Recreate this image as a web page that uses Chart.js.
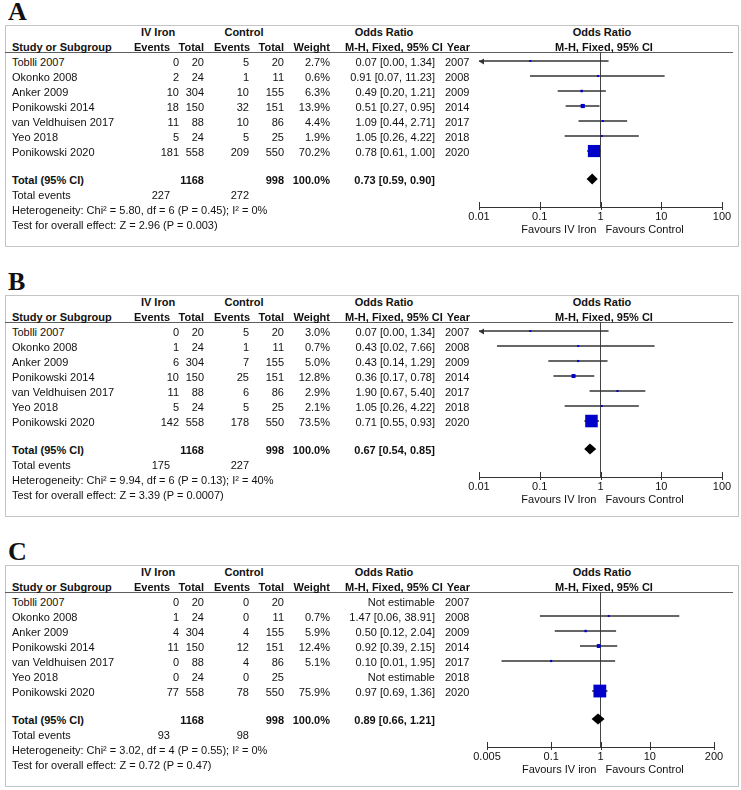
<!DOCTYPE html>
<html><head><meta charset="utf-8">
<script src="https://cdn.jsdelivr.net/npm/chart.js"></script>
<style>
html,body{margin:0;padding:0;background:#fff;}
body{width:741px;height:790px;position:relative;overflow:hidden;font-family:"Liberation Sans",Arial,sans-serif;color:#111;}
.t{position:absolute;font-size:11px;line-height:14px;white-space:nowrap;z-index:2;}
.b{font-weight:bold;}
.box{position:absolute;border:1.5px solid #c4c4c4;box-sizing:border-box;}
.hl{position:absolute;height:1.5px;background:#5e5e5e;}
.lab{position:absolute;font-family:"Liberation Serif",serif;font-weight:bold;font-size:26px;line-height:26px;}
.cw{position:absolute;z-index:1;}
</style></head><body>
<script>
// ---------- data ----------
const studies = ['Toblli 2007','Okonko 2008','Anker 2009','Ponikowski 2014','van Veldhuisen 2017','Yeo 2018','Ponikowski 2020'];
const years = [2007, 2008, 2009, 2014, 2017, 2018, 2020];
const ivTotal = [20, 24, 304, 150, 88, 24, 558];
const ctrlTotal = [20, 11, 155, 151, 86, 25, 550];

// Panel A
const aIvEvents   = [0, 2, 10, 18, 11, 5, 181];
const aCtrlEvents = [5, 1, 10, 32, 10, 5, 209];
const aWeight = [2.7, 0.6, 6.3, 13.9, 4.4, 1.9, 70.2];
const aOR   = [0.07, 0.91, 0.49, 0.51, 1.09, 1.05, 0.78];
const aLow  = [0.00, 0.07, 0.20, 0.27, 0.44, 0.26, 0.61];
const aHigh = [1.34, 11.23, 1.21, 0.95, 2.71, 4.22, 1.00];
const aTotal = [0.73, 0.59, 0.90];
const aTotalEvents = [227, 272];
const aHet = 'Heterogeneity: Chi² = 5.80, df = 6 (P = 0.45); I² = 0%';
const aTest = 'Test for overall effect: Z = 2.96 (P = 0.003)';

// Panel B
const bIvEvents   = [0, 1, 6, 10, 11, 5, 142];
const bCtrlEvents = [5, 1, 7, 25, 6, 5, 178];
const bWeight = [3.0, 0.7, 5.0, 12.8, 2.9, 2.1, 73.5];
const bOR   = [0.07, 0.43, 0.43, 0.36, 1.90, 1.05, 0.71];
const bLow  = [0.00, 0.02, 0.14, 0.17, 0.67, 0.26, 0.55];
const bHigh = [1.34, 7.66, 1.29, 0.78, 5.40, 4.22, 0.93];
const bTotal = [0.67, 0.54, 0.85];
const bTotalEvents = [175, 227];
const bHet = 'Heterogeneity: Chi² = 9.94, df = 6 (P = 0.13); I² = 40%';
const bTest = 'Test for overall effect: Z = 3.39 (P = 0.0007)';

// Panel C
const cIvEvents   = [0, 1, 4, 11, 0, 0, 77];
const cCtrlEvents = [0, 0, 4, 12, 4, 0, 78];
const cWeight = [null, 0.7, 5.9, 12.4, 5.1, null, 75.9];
const cOR   = [null, 1.47, 0.50, 0.92, 0.10, null, 0.97];
const cLow  = [null, 0.06, 0.12, 0.39, 0.01, null, 0.69];
const cHigh = [null, 38.91, 2.04, 2.15, 1.95, null, 1.36];
const cTotal = [0.89, 0.66, 1.21];
const cTotalEvents = [93, 98];
const cHet = 'Heterogeneity: Chi² = 3.02, df = 4 (P = 0.55); I² = 0%';
const cTest = 'Test for overall effect: Z = 0.72 (P = 0.47)';

// Axis ticks
const ticksAB = [0.01, 0.1, 1, 10, 100];
const tickLabelsAB = ['0.01', '0.1', '1', '10', '100'];
const ticksC = [0.005, 0.1, 1, 10, 200];
const tickLabelsC = ['0.005', '0.1', '1', '10', '200'];
const favoursAB = ['Favours IV Iron', 'Favours Control'];
const favoursC = ['Favours IV iron', 'Favours Control'];

// ---------- layout ----------
const panelTops = [0, 270, 540];
const TOTAL_ROW = 7.87;
const BLUE = '#0000c8';

const panels = [
  {label:'A', ivEv:aIvEvents, ctEv:aCtrlEvents, w:aWeight, or:aOR, lo:aLow, hi:aHigh, tot:aTotal, totEv:aTotalEvents, het:aHet, test:aTest, ticks:ticksAB, tickLabels:tickLabelsAB, fav:favoursAB},
  {label:'B', ivEv:bIvEvents, ctEv:bCtrlEvents, w:bWeight, or:bOR, lo:bLow, hi:bHigh, tot:bTotal, totEv:bTotalEvents, het:bHet, test:bTest, ticks:ticksAB, tickLabels:tickLabelsAB, fav:favoursAB},
  {label:'C', ivEv:cIvEvents, ctEv:cCtrlEvents, w:cWeight, or:cOR, lo:cLow, hi:cHigh, tot:cTotal, totEv:cTotalEvents, het:cHet, test:cTest, ticks:ticksC, tickLabels:tickLabelsC, fav:favoursC}
];

function txt(s, x, y, align, bold) {
  const d = document.createElement('div');
  d.className = 't' + (bold ? ' b' : '');
  d.textContent = s;
  if (align === 'r') { d.style.left = (x - 300) + 'px'; d.style.width = '300px'; d.style.textAlign = 'right'; }
  else if (align === 'c') { d.style.left = (x - 150) + 'px'; d.style.width = '300px'; d.style.textAlign = 'center'; }
  else d.style.left = x + 'px';
  d.style.top = (y - 7) + 'px';
  document.body.appendChild(d);
  return d;
}
function el(cls, css) {
  const d = document.createElement('div');
  d.className = cls;
  Object.assign(d.style, css);
  document.body.appendChild(d);
  return d;
}
const f2 = v => v.toFixed(2);
const orText = (o, l, h) => o == null ? 'Not estimable' : `${f2(o)} [${f2(l)}, ${f2(h)}]`;

const forestPlugin = {
  id: 'forest',
  afterDatasetsDraw(chart, args, opts) {
    const {ctx} = chart;
    const x = chart.scales.x, y = chart.scales.y;
    const p = opts.panel;
    ctx.save();
    // arrows for CIs beyond the axis
    ctx.fillStyle = '#333';
    p.lo.forEach((v, i) => {
      if (v != null && v < x.min) {
        const px = x.getPixelForValue(x.min), py = Math.round(y.getPixelForValue(i)) + 0.5;
        ctx.beginPath(); ctx.moveTo(px, py); ctx.lineTo(px + 5, py - 3); ctx.lineTo(px + 5, py + 3); ctx.closePath(); ctx.fill();
      }
    });
    p.hi.forEach((v, i) => {
      if (v != null && v > x.max) {
        const px = x.getPixelForValue(x.max), py = Math.round(y.getPixelForValue(i)) + 0.5;
        ctx.beginPath(); ctx.moveTo(px, py); ctx.lineTo(px - 5, py - 3); ctx.lineTo(px - 5, py + 3); ctx.closePath(); ctx.fill();
      }
    });
    // pooled diamond
    const [e, l, h] = p.tot;
    const yy = y.getPixelForValue(TOTAL_ROW);
    ctx.fillStyle = '#000';
    ctx.beginPath();
    ctx.moveTo(x.getPixelForValue(l), yy);
    ctx.lineTo(x.getPixelForValue(e), yy - 5.5);
    ctx.lineTo(x.getPixelForValue(h), yy);
    ctx.lineTo(x.getPixelForValue(e), yy + 5.5);
    ctx.closePath(); ctx.fill();
    // tick marks crossing the axis
    ctx.strokeStyle = '#333'; ctx.lineWidth = 1;
    const ay = Math.round(chart.chartArea.bottom);
    x.ticks.forEach(t => {
      const px = Math.round(x.getPixelForValue(t.value)) + 0.5;
      ctx.beginPath(); ctx.moveTo(px, ay - 5); ctx.lineTo(px, ay + 3); ctx.stroke();
    });
    ctx.restore();
  }
};

panels.forEach((p, k) => {
  const P = panelTops[k];
  // label and frame
  const lab = el('lab', {left: '8px', top: (P - 1) + 'px'}); lab.textContent = p.label;
  el('box', {left: '5px', top: (P + 25) + 'px', width: '734px', height: '222px'});
  el('hl', {left: '5px', top: (P + 51.5) + 'px', width: '728px'});

  // headers
  txt('IV Iron', 158, P + 32, 'c', true);
  txt('Control', 244, P + 32, 'c', true);
  txt('Odds Ratio', 384, P + 32, 'c', true);
  txt('Odds Ratio', 602, P + 32, 'c', true);
  txt('Study or Subgroup', 12, P + 47, 'l', true);
  txt('Events', 170, P + 47, 'r', true);
  txt('Total', 204, P + 47, 'r', true);
  txt('Events', 250, P + 47, 'r', true);
  txt('Total', 284, P + 47, 'r', true);
  txt('Weight', 330, P + 47, 'r', true);
  txt('M-H, Fixed, 95% CI', 345, P + 47, 'l', true);
  txt('Year', 470, P + 47, 'r', true);
  txt('M-H, Fixed, 95% CI', 604, P + 47, 'c', true);

  // study rows
  studies.forEach((s, i) => {
    const y = P + 61.7 + 15 * i;
    txt(s, 12, y, 'l');
    txt(String(p.ivEv[i]), 179, y, 'r');
    txt(String(ivTotal[i]), 204, y, 'r');
    txt(String(p.ctEv[i]), 249, y, 'r');
    txt(String(ctrlTotal[i]), 284, y, 'r');
    if (p.w[i] != null) txt(p.w[i].toFixed(1) + '%', 330, y, 'r');
    txt(orText(p.or[i], p.lo[i], p.hi[i]), 435, y, 'r');
    txt(String(years[i]), 445, y, 'l');
  });

  // totals
  const ivSum = ivTotal.reduce((a, b) => a + b, 0);
  const ctSum = ctrlTotal.reduce((a, b) => a + b, 0);
  txt('Total (95% CI)', 12, P + 180, 'l', true);
  txt(String(ivSum), 204, P + 180, 'r', true);
  txt(String(ctSum), 284, P + 180, 'r', true);
  txt('100.0%', 330, P + 180, 'r', true);
  txt(orText(p.tot[0], p.tot[1], p.tot[2]), 435, P + 180, 'r', true);
  txt('Total events', 12, P + 195, 'l');
  txt(String(p.totEv[0]), 170, P + 195, 'r');
  txt(String(p.totEv[1]), 249, P + 195, 'r');
  txt(p.het, 12, P + 210, 'l');
  txt(p.test, 12, P + 225, 'l');

  // forest plot
  const xMin = p.ticks[0], xMax = p.ticks[p.ticks.length - 1];
  const L = 450, W = 290, T = P + 52, H = 185;
  const axL = (k === 2) ? 487 : 479, axR = (k === 2) ? 714 : 722;
  const wrap = el('cw', {left: L + 'px', top: T + 'px', width: W + 'px', height: H + 'px'});
  const cv = document.createElement('canvas');
  cv.width = W; cv.height = H; cv.style.width = W + 'px'; cv.style.height = H + 'px';
  wrap.appendChild(cv);

  const ciData = [], ptData = [], ptRadius = [];
  studies.forEach((s, i) => {
    if (p.or[i] == null) return;
    ciData.push({x: [Math.max(p.lo[i], xMin), Math.min(p.hi[i], xMax)], y: i});
    ptData.push({x: p.or[i], y: i});
    const side = Math.max(2, 0.735 * Math.pow(p.w[i], 0.66));
    ptRadius.push(side / Math.SQRT2);
  });

  const chart = new Chart(cv, {
    type: 'scatter',
    data: {
      datasets: [
        {type: 'scatter', data: ptData, pointStyle: 'rect', pointRadius: ptRadius, backgroundColor: BLUE, borderWidth: 0, order: 0, clip: false},
        {type: 'bar', indexAxis: 'y', data: ciData, backgroundColor: '#333', borderWidth: 0, barThickness: 1, grouped: false, order: 1}
      ]
    },
    options: {
      responsive: false, animation: false, devicePixelRatio: 1,
      layout: {autoPadding: false, padding: {left: axL - L, right: (L + W) - axR, top: 0, bottom: 0}},
      plugins: {legend: {display: false}, tooltip: {enabled: false}, forest: {panel: p}},
      scales: {
        x: {
          type: 'logarithmic', min: xMin, max: xMax, bounds: 'data', position: 'bottom', offset: false,
          afterBuildTicks: s => { s.ticks = p.ticks.map(v => ({value: v})); },
          afterFit: s => { s.height = 30; },
          grid: {drawOnChartArea: true, drawTicks: false, lineWidth: 1, offset: false,
                 color: c => (c.tick && c.tick.value === 1) ? '#444' : 'rgba(0,0,0,0)'},
          border: {display: true, color: '#333', width: 1},
          ticks: {autoSkip: false, maxRotation: 0, minRotation: 0, padding: 3.4, color: '#111',
                  font: {family: 'Liberation Sans', size: 11},
                  callback: (v, i) => p.tickLabels[i]}
        },
        y: {type: 'linear', display: false, reverse: true, min: -0.6, max: 9.73, bounds: 'data', offset: false, grace: 0,
            grid: {offset: false}}
      }
    },
    plugins: [forestPlugin]
  });

  const px1 = L + chart.scales.x.getPixelForValue(1);
  txt(p.fav[0], px1 - 4, P + 229, 'r');
  txt(p.fav[1], px1 + 5, P + 229, 'l');
});
</script>
</body></html>
